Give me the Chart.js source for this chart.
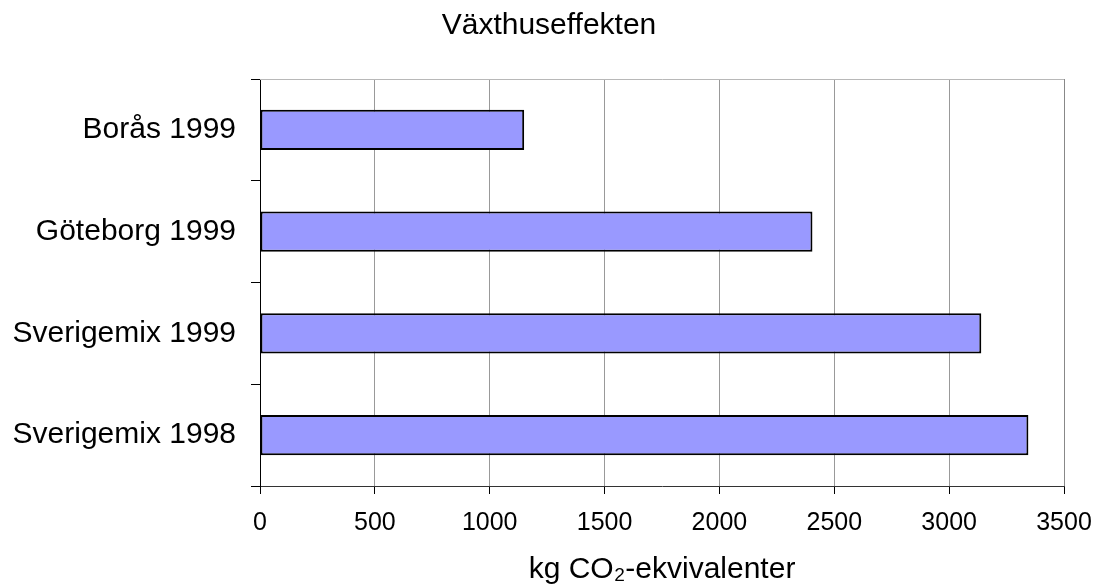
<!DOCTYPE html>
<html>
<head>
<meta charset="utf-8">
<script src="https://cdn.jsdelivr.net/npm/chart.js@4/dist/chart.umd.min.js"></script>
<style>
  html, body { margin: 0; padding: 0; background: #ffffff; }
  #wrap { width: 1098px; height: 585px; }
</style>
</head>
<body>
<div id="wrap"><canvas id="c" width="1098" height="585"></canvas></div>
<script>
const categories = ["Borås 1999", "Göteborg 1999", "Sverigemix 1999", "Sverigemix 1998"];
const values = [1150, 2405, 3140, 3345];
const xTicks = [0, 500, 1000, 1500, 2000, 2500, 3000, 3500];
const chartTitle = "Växthuseffekten";
const xAxisTitle = "kg CO₂-ekvivalenter";

const FONT = "'Liberation Sans', Arial, Helvetica, sans-serif";

const topBorder = {
  id: 'topBorder',
  afterDraw(chart) {
    const a = chart.chartArea, ctx = chart.ctx;
    ctx.save();
    ctx.strokeStyle = '#b8b8b8';
    ctx.lineWidth = 1;
    ctx.beginPath();
    ctx.moveTo(a.left, Math.round(a.top) + 0.5);
    ctx.lineTo(a.right + 0.5, Math.round(a.top) + 0.5);
    ctx.stroke();
    ctx.strokeStyle = '#888888';
    ctx.beginPath();
    ctx.moveTo(Math.round(a.right) + 0.5, a.top);
    ctx.lineTo(Math.round(a.right) + 0.5, a.bottom);
    ctx.stroke();
    ctx.restore();
  }
};

new Chart(document.getElementById('c'), {
  type: 'bar',
  data: {
    labels: categories,
    datasets: [{
      data: values,
      backgroundColor: '#9999FF',
      borderColor: '#000000',
      borderWidth: 2,
      borderSkipped: false,
      categoryPercentage: 1.0,
      barPercentage: 0.395
    }]
  },
  options: {
    indexAxis: 'y',
    responsive: false,
    animation: false,
    devicePixelRatio: 1,
    layout: { padding: 0 },
    plugins: {
      legend: { display: false },
      tooltip: { enabled: false },
      title: {
        display: true,
        text: chartTitle,
        color: '#000',
        font: { family: FONT, size: 30, weight: 'normal', lineHeight: 1.2 },
        padding: { top: 8, bottom: 35 }
      }
    },
    scales: {
      x: {
        type: 'linear',
        min: 0,
        max: 3500,
        afterBuildTicks(scale) { scale.ticks = xTicks.map(v => ({ value: v })); },
        afterFit(scale) {
          scale.height = 99;
          scale.paddingLeft = 0;
          scale.paddingRight = 34;
        },
        ticks: {
          color: '#000',
          font: { family: FONT, size: 25, lineHeight: 1.2 },
          padding: 14,
          maxRotation: 0,
          autoSkip: false,
          callback: (v) => String(v)
        },
        grid: {
          color: '#999999',
          lineWidth: 1,
          drawTicks: true,
          tickLength: 8,
          tickColor: '#000'
        },
        border: { display: true, color: '#333333', width: 1 },
        title: {
          display: true,
          text: xAxisTitle,
          color: '#000',
          font: { family: FONT, size: 30, lineHeight: 1.0 },
          padding: { top: 0, bottom: 0 }
        }
      },
      y: {
        type: 'category',
        afterFit(scale) { scale.width = 260; },
        ticks: {
          color: '#000',
          font: { family: FONT, size: 30, lineHeight: 1.2 },
          padding: 15,
          autoSkip: false
        },
        grid: {
          offset: true,
          drawOnChartArea: false,
          drawTicks: true,
          tickLength: 9,
          tickColor: '#000'
        },
        border: { display: true, color: '#000', width: 1 }
      }
    }
  },
  plugins: [topBorder]
});
</script>
</body>
</html>
